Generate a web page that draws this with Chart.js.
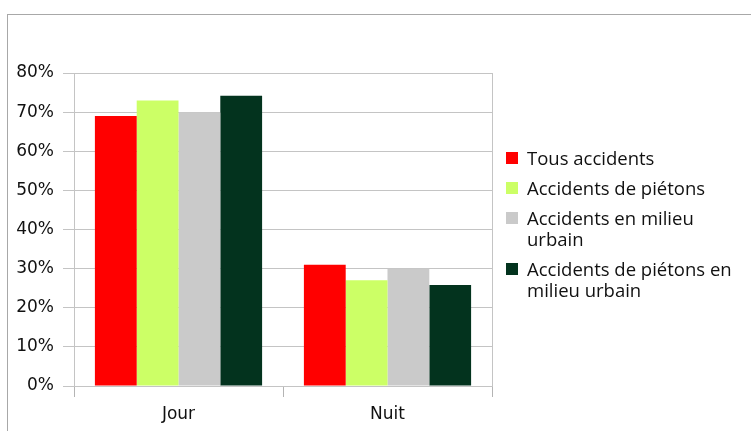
<!DOCTYPE html>
<html>
<head>
<meta charset="utf-8">
<script src="https://cdn.jsdelivr.net/npm/chart.js@4/dist/chart.umd.min.js"></script>
<style>
  html, body { margin: 0; padding: 0; background: #fff; }
  #wrap { position: relative; width: 751px; height: 431px; overflow: hidden; }
  #frame { position: absolute; left: 7px; top: 14px; width: 800px; height: 500px;
           border-top: 1px solid #a8a8a8; border-left: 1px solid #a8a8a8; }
  canvas { position: absolute; left: 0; top: 0; }
  #legend { position: absolute; left: 506px; top: 147px; width: 238px;
            font-family: "Open Sans", sans-serif; font-size: 18.5px; color: #111; }
  .item { position: relative; padding-left: 21px; line-height: 21px; margin-bottom: 9px; }
  .sw { position: absolute; left: 0; top: 5px; width: 12px; height: 12px; }
</style>
</head>
<body>
<div id="wrap">
  <div id="frame"></div>
  <canvas id="c" width="751" height="431"></canvas>
  <div id="legend"></div>
</div>
<script>
const categories = ["Jour", "Nuit"];
const seriesNames = [
  "Tous accidents",
  "Accidents de piétons",
  "Accidents en milieu urbain",
  "Accidents de piétons en milieu urbain"
];
const tousAccidents = [69, 31];
const accidentsPietons = [73, 27];
const accidentsUrbain = [70, 30];
const pietonsUrbain = [74.2, 25.8];
const yTicks = [0, 10, 20, 30, 40, 50, 60, 70, 80];
const colors = ["#ff0000", "#ccff66", "#cacaca", "#03331e"];

const seriesValues = [tousAccidents, accidentsPietons, accidentsUrbain, pietonsUrbain];

const boxPlugin = {
  id: 'box',
  afterDatasetsDraw(chart) {
    const a = chart.chartArea, ctx = chart.ctx;
    ctx.save();
    ctx.strokeStyle = '#c4c4c4';
    ctx.lineWidth = 1;
    ctx.strokeRect(Math.round(a.left) + 0.5, Math.round(a.top) + 0.5,
                   Math.round(a.right - a.left), Math.round(a.bottom - a.top));
    ctx.restore();
  }
};

const chart = new Chart(document.getElementById('c'), {
  type: 'bar',
  data: {
    labels: categories,
    datasets: seriesValues.map((vals, i) => ({
      label: seriesNames[i],
      data: vals,
      backgroundColor: colors[i],
      borderWidth: 0,
      categoryPercentage: 0.8,
      barPercentage: 1.0
    }))
  },
  options: {
    responsive: false,
    animation: false,
    devicePixelRatio: 1,
    layout: { padding: { top: 73, right: 259, left: 0, bottom: 0 } },
    plugins: { legend: { display: false }, tooltip: { enabled: false } },
    scales: {
      x: {
        offset: true,
        grid: { offset: true, drawOnChartArea: false, drawTicks: true, tickLength: 11, color: '#b4b4b4' },
        border: { display: true, color: '#b4b4b4' },
        ticks: { color: '#111', font: { family: 'DejaVu Sans', size: 17 }, padding: 7 },
        afterFit(s) { s.height = 45; }
      },
      y: {
        min: 0, max: 80,
        afterBuildTicks(s) { s.ticks = yTicks.map(v => ({ value: v })); },
        grid: { color: '#c4c4c4', tickLength: 11 },
        border: { display: true, color: '#b4b4b4' },
        ticks: { color: '#111', font: { family: 'DejaVu Sans', size: 17 }, padding: 9,
                 callback: v => v + '%' },
        afterFit(s) { s.width = 74; }
      }
    }
  },
  plugins: [boxPlugin]
});

const legend = document.getElementById('legend');
seriesNames.forEach((name, i) => {
  const d = document.createElement('div');
  d.className = 'item';
  const sw = document.createElement('span');
  sw.className = 'sw';
  sw.style.background = colors[i];
  d.appendChild(sw);
  d.appendChild(document.createTextNode(name));
  legend.appendChild(d);
});
</script>
</body>
</html>
